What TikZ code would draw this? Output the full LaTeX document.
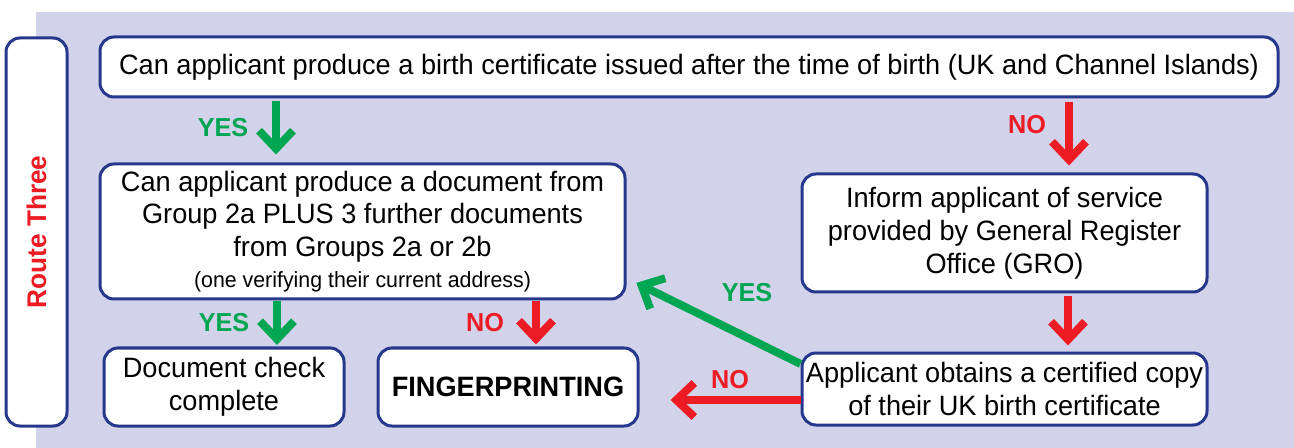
\documentclass[tikz,border=0pt]{standalone}
\usepackage{fontspec}
\setmainfont{Liberation Sans}[FakeStretch=0.97]
\usetikzlibrary{arrows.meta}

\definecolor{bgblue}{RGB}{210,210,234}
\definecolor{boxblue}{RGB}{38,56,140}
\definecolor{yesgreen}{RGB}{0,166,81}
\definecolor{nored}{RGB}{237,28,36}

\begin{document}
\begin{tikzpicture}[x=0.5pt,y=-0.5pt,
        box/.style={draw=boxblue,line width=1.5pt,fill=white,rounded corners=7pt,
            align=center,inner sep=0pt,font=\fontsize{14}{16.4}\selectfont},
        yesarrow/.style={draw=yesgreen,line width=4pt,-{Straight Barb[length=9pt,width=17pt]}},
        noarrow/.style={yesarrow,draw=nored},
        yeslabel/.style={text=yesgreen,font=\fontsize{13}{15}\selectfont\bfseries},
        nolabel/.style={yeslabel,text=nored}]

        \useasboundingbox (0,0) rectangle (1294,448);

        % Columns and rows the arrows run along
        \coordinate (yescol)   at (276,0);
        \coordinate (checkcol) at (277,0);
        \coordinate (fingcol)  at (536,0);
        \coordinate (grocol)   at (1069,0);
        \coordinate (copycol)  at (1068,0);
        \coordinate (norow)    at (0,400);

        % Lavender background
        \fill[bgblue] (36,12) rectangle (1294,448);

        % Side label
        \node[box,rotate=90,minimum width=194pt,minimum height=30.5pt,
            text=nored,font=\fontsize{13.5}{16}\selectfont\bfseries] (route) at (36.5,232) {Route Three};

        % The boxes
        \node[box,minimum width=589pt,minimum height=30pt] (top) at (689,67)
            {Can applicant produce a birth certificate issued after the time of birth (UK and Channel Islands)};
        \node[box,minimum width=262.5pt,minimum height=67.5pt] (group) at (362.5,231.5)
            {Can applicant produce a document from\\
             Group 2a PLUS 3 further documents\\
             from Groups 2a or 2b\\[-1pt]
             {\fontsize{11}{13}\selectfont (one verifying their current address)}};
        \node[box,minimum width=120pt,minimum height=39pt] (check) at (224,387)
            {Document check\\complete};
        \node[box,minimum width=130pt,minimum height=39pt,font=\fontsize{14}{16.4}\selectfont\bfseries] (finger) at (508,387)
            {FINGERPRINTING};
        \node[box,minimum width=202.5pt,minimum height=59pt] (inform) at (1004.5,233)
            {Inform applicant of service\\provided by General Register\\Office (GRO)};
        \node[box,minimum width=202.5pt,minimum height=36pt] (copy) at (1004.5,389)
            {Applicant obtains a certified copy\\of their UK birth certificate};

        % Arrows
        \draw[yesarrow,shorten <=1.5pt,shorten >=4pt] (top.south -| yescol) -- (group.north -| yescol);
        \draw[noarrow,shorten <=2pt,shorten >=3.5pt] (top.south -| grocol) -- (inform.north -| grocol);
        \draw[noarrow,shorten <=1.5pt,shorten >=3pt] (inform.south -| copycol) -- (copy.north -| copycol);
        \draw[yesarrow,shorten <=0.5pt,shorten >=0.75pt] (group.south -| checkcol) -- (check.north -| checkcol);
        \draw[noarrow,shorten <=0.5pt,shorten >=1pt] (group.south -| fingcol) -- (finger.north -| fingcol);
        \draw[noarrow,shorten >=15.5pt] (copy.west |- norow) -- (finger.east |- norow);
        \draw[yesarrow,shorten >=5.5pt] (copy.173) -- (group.-10);

        % Labels on the arrows
        \node[yeslabel] (yes1) at (223,128) {YES};
        \node[nolabel]  (no1)  at (1027,125) {NO};
        \node[yeslabel] (yes2) at (224,323) {YES};
        \node[nolabel]  (no2)  at (485,323) {NO};
        \node[nolabel]  (no3)  at (730,380) {NO};
        \node[yeslabel] (yes3) at (747,293) {YES};
\end{tikzpicture}
\end{document}
